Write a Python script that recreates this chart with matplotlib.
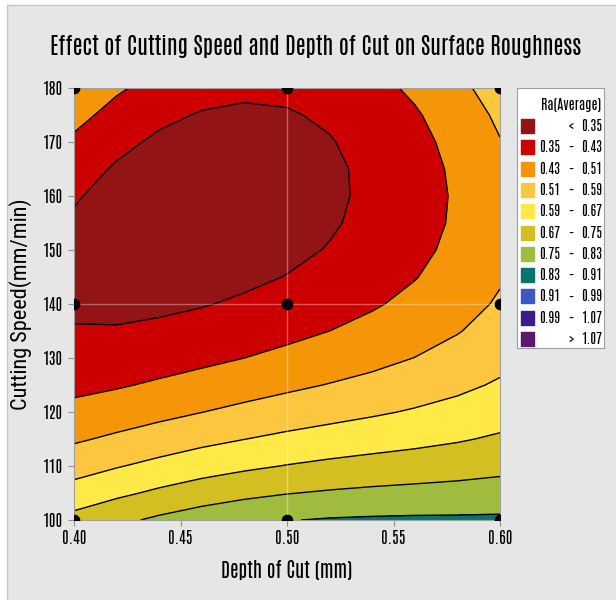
import matplotlib
matplotlib.use("Agg")
import matplotlib.pyplot as plt
import numpy as np

# Ra grid
depth = [0.40, 0.42, 0.44, 0.46, 0.48, 0.50, 0.52, 0.54, 0.56, 0.58, 0.60]
speed = [100, 105, 110, 115, 120, 125, 130, 135, 140,
         145, 150, 155, 160, 165, 170, 175, 180]
# one row per speed, one column per depth
ra = [
    [0.695, 0.732, 0.764, 0.791, 0.812, 0.827, 0.836, 0.840, 0.842, 0.842, 0.843],
    [0.622, 0.654, 0.684, 0.710, 0.731, 0.747, 0.758, 0.766, 0.772, 0.777, 0.783],
    [0.557, 0.585, 0.611, 0.636, 0.656, 0.673, 0.687, 0.698, 0.707, 0.717, 0.729],
    [0.500, 0.523, 0.546, 0.569, 0.589, 0.607, 0.622, 0.636, 0.649, 0.663, 0.680],
    [0.451, 0.469, 0.489, 0.509, 0.529, 0.547, 0.564, 0.580, 0.597, 0.615, 0.637],
    [0.411, 0.423, 0.440, 0.458, 0.476, 0.495, 0.513, 0.531, 0.551, 0.573, 0.599],
    [0.379, 0.385, 0.398, 0.413, 0.430, 0.449, 0.468, 0.488, 0.511, 0.537, 0.567],
    [0.354, 0.355, 0.363, 0.376, 0.392, 0.410, 0.430, 0.452, 0.477, 0.506, 0.540],
    [0.339, 0.333, 0.337, 0.346, 0.360, 0.377, 0.398, 0.422, 0.449, 0.481, 0.519],
    [0.331, 0.319, 0.318, 0.324, 0.336, 0.352, 0.373, 0.398, 0.427, 0.462, 0.503],
    [0.331, 0.313, 0.306, 0.309, 0.318, 0.334, 0.354, 0.380, 0.411, 0.449, 0.493],
    [0.340, 0.315, 0.303, 0.301, 0.308, 0.322, 0.342, 0.369, 0.401, 0.441, 0.488],
    [0.357, 0.324, 0.307, 0.301, 0.305, 0.317, 0.337, 0.364, 0.398, 0.439, 0.489],
    [0.382, 0.342, 0.318, 0.308, 0.309, 0.319, 0.338, 0.365, 0.400, 0.443, 0.495],
    [0.415, 0.368, 0.338, 0.323, 0.320, 0.328, 0.346, 0.373, 0.408, 0.453, 0.507],
    [0.457, 0.401, 0.365, 0.345, 0.338, 0.344, 0.360, 0.386, 0.422, 0.468, 0.524],
    [0.506, 0.442, 0.399, 0.374, 0.364, 0.366, 0.381, 0.407, 0.443, 0.490, 0.547],
]
design_depth = [0.4, 0.4, 0.4, 0.5, 0.5, 0.5, 0.6, 0.6, 0.6]
design_speed = [100, 140, 180, 100, 140, 180, 100, 140, 180]

levels = [0.35, 0.43, 0.51, 0.59, 0.67, 0.75, 0.83, 0.91, 0.99, 1.07]
colors = ['#921414', '#CC0000', '#F59508', '#FCC63F', '#FFE946', '#D4BF22',
          '#A0BC3E', '#077470', '#3D58C4', '#3B1C88', '#571A6C']

narrow = ['Antonio', 'Roboto Condensed', 'DejaVu Sans']
cond = ['Roboto Condensed', 'DejaVu Sans']
plt.rcParams['font.family'] = narrow

fig = plt.figure(figsize=(6.16, 6.0), dpi=100, facecolor='#E6E6E6')
# white strips along the left and top edge, as in the export
fig.patches.append(plt.Rectangle((0, 0), 7/616, 1, transform=fig.transFigure,
                                 facecolor='white', edgecolor='none'))
fig.patches.append(plt.Rectangle((0, 1-5/600), 1, 5/600, transform=fig.transFigure,
                                 facecolor='white', edgecolor='none'))
fig.lines.append(plt.Line2D([7/616, 7/616], [0, 1-5/600], transform=fig.transFigure,
                            color='#C8C8C8', lw=1))
fig.lines.append(plt.Line2D([7/616, 1], [1-5/600, 1-5/600], transform=fig.transFigure,
                            color='#C8C8C8', lw=1))

ax = fig.add_axes([74/616, 1-520/600, 426/616, 432/600])

X, Y = np.meshgrid(depth, speed)
Z = np.array(ra)
bounds = [-10] + levels + [10]
ax.contourf(X, Y, Z, levels=bounds, colors=colors)
ax.contour(X, Y, Z, levels=levels, colors='black', linewidths=1.0)

ax.axvline(0.5, color='white', alpha=0.35, lw=1)
ax.axhline(140, color='white', alpha=0.35, lw=1)
ax.scatter(design_depth, design_speed, s=55, color='black', zorder=5,
           clip_on=True)

ax.set_xlim(0.4, 0.6)
ax.set_ylim(100, 180)
ax.set_xticks([0.40, 0.45, 0.50, 0.55, 0.60])
ax.set_xticklabels(['0.40', '0.45', '0.50', '0.55', '0.60'])
ax.set_yticks(range(100, 181, 10))
ax.tick_params(labelsize=11.5, color='#909090', length=4)
for sp in ax.spines.values():
    sp.set_color('#A0A0A0')

ax.set_xlabel('Depth of Cut (mm)', fontsize=14, labelpad=10)
ax.set_ylabel('Cutting Speed(mm/min)', fontsize=16, labelpad=8, family=cond)
fig.text(316/616, 1-46/600, 'Effect of Cutting Speed and Depth of Cut on Surface Roughness',
         ha='center', va='center', fontsize=16.4)

# legend drawn by hand, Minitab style
lax = fig.add_axes([517/616, 1-348/600, 87/616, 260/600])
lax.set_xlim(0, 87)
lax.set_ylim(260, 0)
lax.set_xticks([])
lax.set_yticks([])
lax.set_facecolor('white')
for sp in lax.spines.values():
    sp.set_color('#A0A0A0')
lax.text(84, 17, 'Ra(Average)', ha='right', va='center', fontsize=10)
low = [None] + levels
high = levels + [None]
for i, c in enumerate(colors):
    yc = 38 + 21.3 * i
    lax.add_patch(plt.Rectangle((4, yc - 7), 13, 14, color=c))
    if low[i] is None:
        lax.text(54, yc, '<', ha='center', va='center', fontsize=10)
    elif high[i] is None:
        lax.text(54, yc, '>', ha='center', va='center', fontsize=10)
    else:
        lax.text(22, yc, '%.2f' % low[i], ha='left', va='center', fontsize=10)
        lax.text(54, yc, '–', ha='center', va='center', fontsize=10)
    v = high[i] if high[i] is not None else low[i]
    lax.text(85, yc, '%.2f' % v, ha='right', va='center', fontsize=10)

fig.savefig('out.png', dpi=100, facecolor=fig.get_facecolor())
